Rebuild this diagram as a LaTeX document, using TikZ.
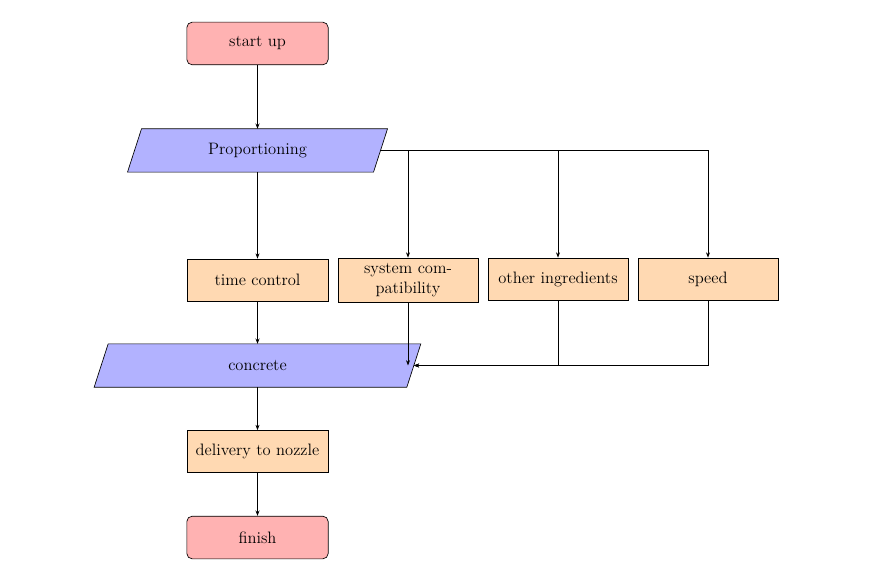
\documentclass[tikz,border=0pt]{standalone}
\usetikzlibrary{calc,arrows.meta}
\pgfdeclarelayer{background}
\pgfsetlayers{background,main}
\begin{document}
\begin{tikzpicture}[x=0.75pt,y=-0.75pt,
  font=\fontsize{12.4}{14.5}\selectfont,
  every node/.style={draw, line width=0.5pt, inner sep=2pt, align=center},
  term/.style={rectangle, rounded corners=4pt, fill=red!30, minimum width=106pt, minimum height=32pt},
  proc/.style={rectangle, fill=orange!30, minimum width=106pt, minimum height=31.5pt},
  io/.style={rectangle, draw=none, minimum height=32pt},
  iofill/.style={draw, line width=0.5pt, fill=blue!30},
  conn/.style={draw, line width=0.6pt, -{Stealth[length=4pt,width=3pt]}}
]
\useasboundingbox (0,0) rectangle (870,577);
\node[term] (start) at (257.5,43.5) {start up};
\node[io, minimum width=184pt] (prop) at (257.5,150.5) {Proportioning};
\node[proc] (time) at (257.5,280) {time control};
\node[proc, minimum width=105pt, minimum height=33pt] (sys) at (408,280) {system com-\\patibility};
\node[proc, minimum width=105pt] (other) at (558,279) {other ingredients};
\node[proc, minimum width=105pt] (speed) at (708,279) {speed};
\node[io, minimum width=234pt] (conc) at (257.5,365.5) {concrete};
\node[proc] (deliv) at (257.5,451.5) {delivery to nozzle};
\node[term] (finish) at (257.5,537.5) {finish};

\begin{pgfonlayer}{background}
\foreach \n in {prop,conc}{
  \path[iofill] ($(\n.south west)+(-7,0)$) -- ($(\n.south east)+(-7,0)$)
    -- ($(\n.north east)+(7,0)$) -- ($(\n.north west)+(7,0)$) -- cycle;
}
\end{pgfonlayer}

\draw[conn] (start) -- (prop);
\draw[conn] (prop) -- (time);
\draw[conn] (prop.east) -| (sys.north);
\draw[conn] (prop.east) -| (other.north);
\draw[conn] (prop.east) -| (speed.north);
\draw[conn] (time) -- (conc);
\draw[conn] (sys.south) -- (sys.south |- conc.east);
\draw[conn] (other.south) |- (conc.east);
\draw[conn] (speed.south) |- (conc.east);
\draw[conn] (conc) -- (deliv);
\draw[conn] (deliv) -- (finish);
\end{tikzpicture}
\end{document}
